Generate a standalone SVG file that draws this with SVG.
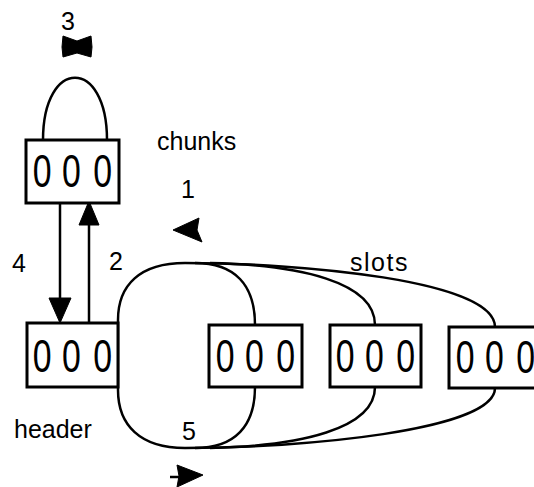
<svg xmlns="http://www.w3.org/2000/svg" width="534" height="487" viewBox="0 0 534 487">
<style>
.box{fill:#fff;stroke:#000;stroke-width:3}
.ln{fill:none;stroke:#000;stroke-width:2.5}
.lbl{font-family:"Liberation Sans",Arial,sans-serif;font-size:25px;fill:#000}
.z{font-family:"Liberation Sans",Arial,sans-serif;font-size:47px;fill:#000;text-anchor:middle}
.hd{fill:#000;stroke:#000;stroke-width:1;stroke-linejoin:round}
</style>
<rect width="534" height="487" fill="#fff"/>
<g id="connectors">
  <path class="ln" d="M43,140 C43,57 107,57 107,140"/>
  <line class="ln" x1="60" y1="203" x2="60" y2="300"/>
  <polygon class="hd" points="60,323 49,298 71,298"/>
  <line class="ln" x1="89" y1="323" x2="89" y2="224"/>
  <polygon class="hd" points="89,201 79,225 99,225"/>
  <path class="ln" d="M185,263 C140,263 118,285 118,320 L118,390 C118,425 140,448 185,448"/>
  <path class="ln" d="M185,263 C300,263 495,280 495,327"/>
  <path class="ln" d="M210,263 C300,265 375,282 375,325"/>
  <path class="ln" d="M195,263 C235,263 255,285 255,325"/>
  <path class="ln" d="M495,388 C495,431 300,448 185,448"/>
  <path class="ln" d="M375,387 C375,429 300,446 210,448"/>
  <path class="ln" d="M255,387 C255,426 235,448 195,448"/>
  <polygon class="hd" points="173,230 199,218 197,230 202,242"/>
  <line class="ln" x1="170" y1="477" x2="182" y2="477"/>
  <polygon class="hd" points="177,465 203,475 177,487 179,476"/>
  <polygon class="hd" points="63,36 77,41 91,36 92,47 91,57 77,53 63,57 62,47"/>
</g>
<g id="chunks-node">
  <rect class="box" x="26" y="140" width="93" height="63"/>
  <g transform="translate(72.5,187) scale(0.72,1)"><text class="z" x="-42 -1.5 42">000</text></g>
</g>
<g id="header-node">
  <rect class="box" x="27" y="323" width="91" height="64"/>
  <g transform="translate(72.5,372) scale(0.72,1)"><text class="z" x="-42 -1.5 42">000</text></g>
</g>
<g id="slot1">
  <rect class="box" x="209" y="325" width="93" height="62"/>
  <g transform="translate(255.5,372) scale(0.72,1)"><text class="z" x="-42 -1.5 42">000</text></g>
</g>
<g id="slot2">
  <rect class="box" x="330" y="325" width="91" height="62"/>
  <g transform="translate(375.5,372) scale(0.72,1)"><text class="z" x="-42 -1.5 42">000</text></g>
</g>
<g id="slot3">
  <rect class="box" x="449" y="327" width="100" height="61"/>
  <g transform="translate(495.5,373) scale(0.72,1)"><text class="z" x="-42 -1.5 42">000</text></g>
</g>
<g id="labels">
  <text class="lbl" x="61" y="30">3</text>
  <text class="lbl" x="157" y="150">chunks</text>
  <text class="lbl" x="181" y="198" font-size="23">1</text>
  <text class="lbl" x="12" y="272">4</text>
  <text class="lbl" x="109" y="270">2</text>
  <text class="lbl" x="350" y="271" letter-spacing="1.5">slots</text>
  <text class="lbl" x="14" y="438">header</text>
  <text class="lbl" x="182" y="440">5</text>
</g>
</svg>
